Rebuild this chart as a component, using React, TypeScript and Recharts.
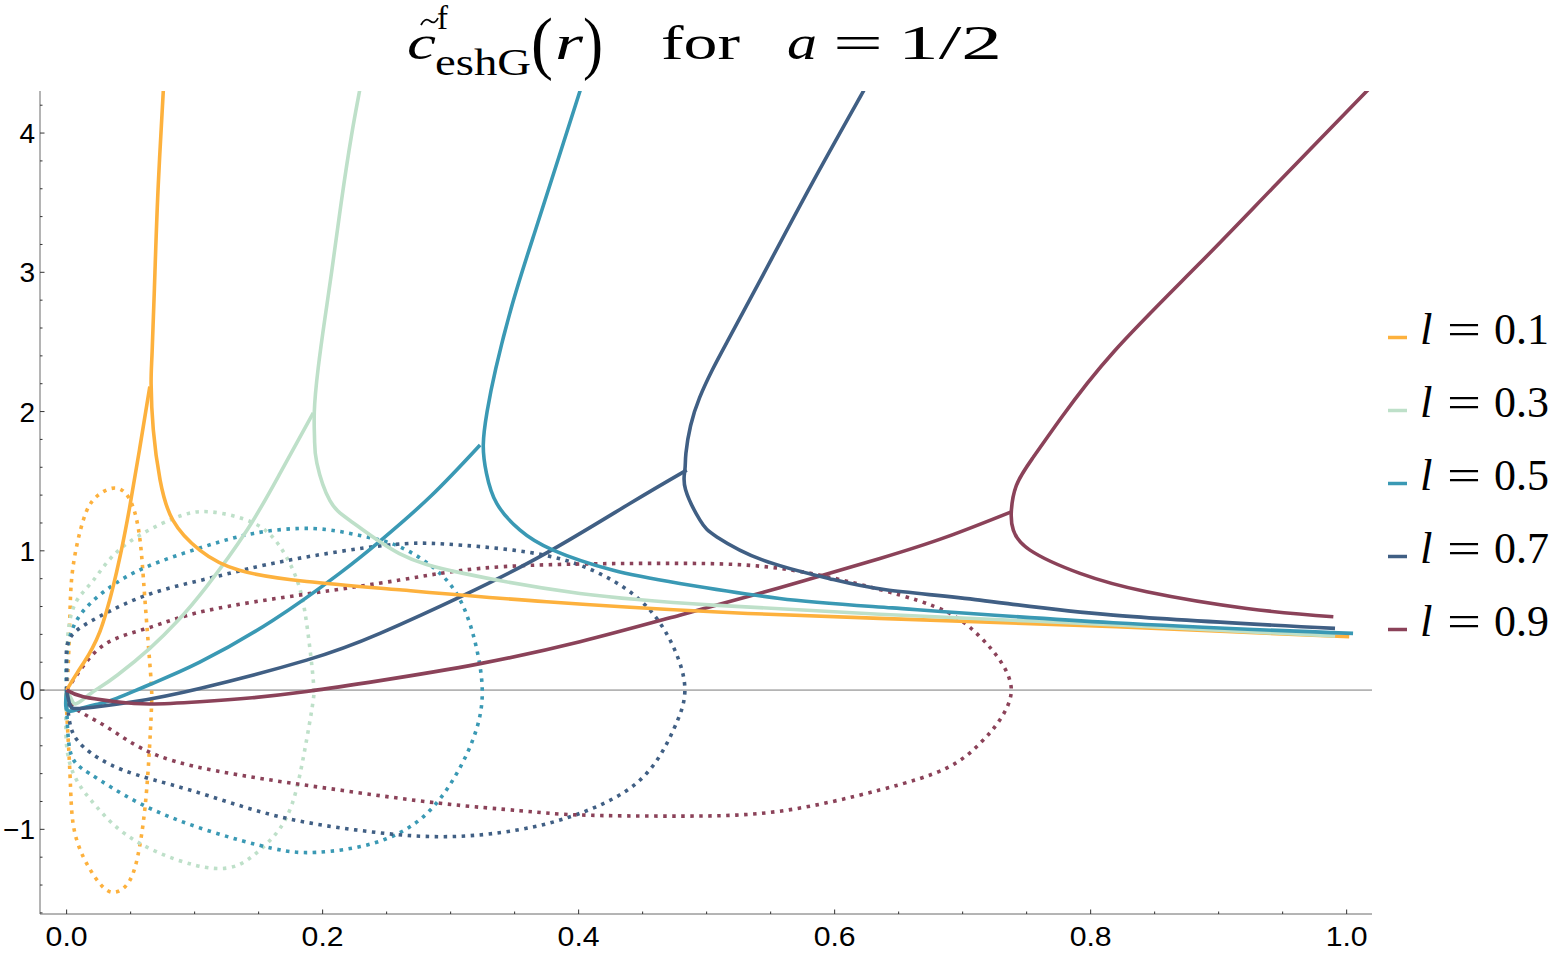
import { LineChart, Line, XAxis, YAxis, ReferenceLine } from 'recharts';

type Pt = [number, number];

const X_DOMAIN: [number, number] = [-0.0208, 1.0198];
const Y_DOMAIN: [number, number] = [-1.608, 4.302];
const X_TICKS = [0, 0.05, 0.1, 0.15, 0.2, 0.25, 0.3, 0.35, 0.4, 0.45, 0.5, 0.55, 0.6, 0.65, 0.7, 0.75, 0.8, 0.85, 0.9, 0.95, 1.0];
const X_LABELED = [0, 0.2, 0.4, 0.6, 0.8, 1.0];
const Y_TICKS = [-1.6, -1.4, -1.2, -1, -0.8, -0.6, -0.4, -0.2, 0, 0.2, 0.4, 0.6, 0.8, 1, 1.2, 1.4, 1.6, 1.8, 2, 2.2, 2.4, 2.6, 2.8, 3, 3.2, 3.4, 3.6, 3.8, 4, 4.2];
const Y_LABELED = [-1, 0, 1, 2, 3, 4];

const L_LABELS = ['0.1', '0.3', '0.5', '0.7', '0.9'];
const COLORS = ['#FDB13D', '#BEE0C9', '#3A99B4', '#405F84', '#8B4259'];

// l = 0.1
const RISE_01: Pt[] = [[0, 0], [0.008, 0.12], [0.014, 0.205], [0.02, 0.3], [0.026, 0.42], [0.031, 0.56], [0.036, 0.73], [0.042, 0.97], [0.049, 1.3], [0.057, 1.73], [0.065, 2.18]];
const BRANCH_01: Pt[] = [[0.0767, 4.5], [0.0755, 4.3], [0.0716, 3.63], [0.069, 3.0], [0.0668, 2.43], [0.066, 2.2], [0.0677, 1.87], [0.073, 1.51], [0.083, 1.22], [0.104, 1.005], [0.135, 0.86], [0.1875, 0.78], [0.26, 0.72], [0.375, 0.634], [0.505, 0.562], [0.635, 0.515], [0.82, 0.455], [1.002, 0.383]];
const LOOP_01: Pt[] = [[0, 0], [0.0013, 0.19], [0.0026, 0.55], [0.005, 0.885], [0.013, 1.22], [0.0234, 1.39], [0.039, 1.45], [0.0508, 1.34], [0.0573, 1.08], [0.061, 0.67], [0.065, 0.19], [0.0664, 0], [0.066, -0.19], [0.0625, -0.718], [0.057, -1.125], [0.0495, -1.364], [0.0377, -1.452], [0.026, -1.39], [0.013, -1.197], [0.005, -0.955], [0.0026, -0.6], [0, -0.144], [0, 0]];

// l = 0.3
const RISE_03: Pt[] = [[0, 0], [0.004, -0.07], [0.008, -0.096], [0.018, -0.03], [0.026, 0.02], [0.04, 0.11], [0.065, 0.3], [0.087, 0.5], [0.109, 0.74], [0.141, 1.15], [0.1667, 1.556], [0.1927, 1.99]];
const BRANCH_03: Pt[] = [[0.2328, 4.5], [0.2288, 4.3], [0.2225, 3.98], [0.2145, 3.5], [0.207, 3.0], [0.2018, 2.67], [0.1965, 2.31], [0.1935, 2.0], [0.1937, 1.8], [0.1955, 1.63], [0.2057, 1.36], [0.224, 1.2], [0.26, 0.98], [0.31, 0.838], [0.401, 0.694], [0.505, 0.61], [0.635, 0.545], [0.82, 0.468], [0.991, 0.388]];
const LOOP_03: Pt[] = [[0, 0], [0.001, 0.4], [0.0078, 0.64], [0.021, 0.79], [0.044, 1.03], [0.083, 1.23], [0.112, 1.28], [0.146, 1.2], [0.1667, 1.03], [0.18, 0.79], [0.1875, 0.48], [0.1927, 0.07], [0.193, 0], [0.1927, -0.07], [0.185, -0.48], [0.172, -0.91], [0.148, -1.172], [0.1146, -1.28], [0.057, -1.1], [0.0234, -0.838], [0.0078, -0.646], [0, -0.4], [0, 0]];

// l = 0.5
const RISE_05: Pt[] = [[0, 0], [0, -0.14], [0.01, -0.135], [0.025, -0.1], [0.039, -0.06], [0.065, 0.04], [0.104, 0.2], [0.161, 0.5], [0.2135, 0.84], [0.2448, 1.07], [0.284, 1.388], [0.323, 1.76]];
const BRANCH_05: Pt[] = [[0.408, 4.5], [0.401, 4.3], [0.3817, 3.745], [0.3651, 3.27], [0.3488, 2.79], [0.3353, 2.31], [0.3285, 2.0], [0.3255, 1.76], [0.328, 1.556], [0.336, 1.34], [0.354, 1.15], [0.38, 1.005], [0.427, 0.86], [0.479, 0.766], [0.557, 0.658], [0.645, 0.59], [0.8177, 0.483], [1.005, 0.407]];
const LOOP_05: Pt[] = [[0, 0], [0, 0.24], [0.0078, 0.5], [0.031, 0.72], [0.0625, 0.885], [0.104, 1.02], [0.146, 1.125], [0.1927, 1.16], [0.229, 1.11], [0.26, 1.03], [0.2917, 0.838], [0.31, 0.598], [0.32, 0.31], [0.3247, 0], [0.32, -0.287], [0.3047, -0.6], [0.2786, -0.91], [0.2396, -1.1], [0.1953, -1.165], [0.161, -1.137], [0.109, -1.005], [0.057, -0.813], [0.018, -0.6], [0.0026, -0.43], [0, 0]];

// l = 0.7
const RISE_07: Pt[] = [[0, 0], [0.0026, -0.108], [0.013, -0.13], [0.052, -0.084], [0.104, 0.012], [0.1875, 0.215], [0.2448, 0.407], [0.31, 0.68], [0.375, 0.985], [0.44, 1.34], [0.4844, 1.58]];
const BRANCH_07: Pt[] = [[0.6344, 4.5], [0.6224, 4.3], [0.583, 3.65], [0.544, 2.98], [0.516, 2.5], [0.5045, 2.3], [0.4945, 2.1], [0.4875, 1.9], [0.4838, 1.7], [0.483, 1.58], [0.4835, 1.44], [0.4948, 1.22], [0.508, 1.1], [0.544, 0.933], [0.596, 0.8], [0.64, 0.72], [0.7135, 0.646], [0.8177, 0.538], [0.9909, 0.443]];
const LOOP_07: Pt[] = [[0, 0], [0, 0.2], [0.003, 0.38], [0.026, 0.53], [0.065, 0.69], [0.1146, 0.81], [0.172, 0.93], [0.25, 1.04], [0.297, 1.048], [0.349, 1.005], [0.401, 0.897], [0.448, 0.646], [0.474, 0.31], [0.483, 0], [0.474, -0.287], [0.448, -0.646], [0.401, -0.885], [0.352, -1.005], [0.2917, -1.053], [0.2266, -1.005], [0.161, -0.897], [0.0963, -0.718], [0.044, -0.574], [0.013, -0.407], [0.0026, -0.24], [0, 0]];

// l = 0.9
const RISE_09: Pt[] = [[0, 0], [0.013, -0.048], [0.039, -0.084], [0.065, -0.1], [0.104, -0.084], [0.145, -0.055], [0.1875, -0.01], [0.2448, 0.068], [0.323, 0.19], [0.401, 0.347], [0.479, 0.538], [0.557, 0.735], [0.6354, 0.945], [0.6875, 1.1], [0.738, 1.28]];
const BRANCH_09: Pt[] = [[1.0367, 4.5], [1.0156, 4.3], [0.9443, 3.625], [0.8836, 3.05], [0.8181, 2.43], [0.7766, 1.95], [0.7545, 1.663], [0.742, 1.47], [0.738, 1.28], [0.7396, 1.149], [0.7526, 1.005], [0.7917, 0.838], [0.8438, 0.706], [0.922, 0.586], [0.9896, 0.526]];
const LOOP_09: Pt[] = [[0, 0], [0.0104, 0.14], [0.031, 0.335], [0.065, 0.45], [0.109, 0.57], [0.1875, 0.69], [0.26, 0.79], [0.323, 0.874], [0.401, 0.905], [0.479, 0.91], [0.557, 0.874], [0.635, 0.723], [0.6875, 0.562], [0.7135, 0.383], [0.729, 0.215], [0.738, 0], [0.729, -0.215], [0.7135, -0.383], [0.6875, -0.56], [0.635, -0.718], [0.557, -0.87], [0.479, -0.905], [0.401, -0.897], [0.354, -0.866], [0.2917, -0.813], [0.2135, -0.718], [0.135, -0.61], [0.0703, -0.467], [0.031, -0.263], [0.005, -0.12], [0, 0]];

const toPts = (a: Pt[]) => a.map(([x, y]) => ({ x, y }));

const SERIES = [
    { rise: RISE_01, branch: BRANCH_01, loop: LOOP_01 },
    { rise: RISE_03, branch: BRANCH_03, loop: LOOP_03 },
    { rise: RISE_05, branch: BRANCH_05, loop: LOOP_05 },
    { rise: RISE_07, branch: BRANCH_07, loop: LOOP_07 },
    { rise: RISE_09, branch: BRANCH_09, loop: LOOP_09 },
].map((s, i) => ({
    label: L_LABELS[i],
    color: COLORS[i],
    rise: toPts(s.rise),
    branch: toPts(s.branch),
    loop: toPts(s.loop),
}));

const FRAME = '#6a6a6a';
const TICK = '#333';
const MAJOR = 4.5;
const MINOR = 2.5;
const LINE_W = 3.6;
const TICK_FONT = '"Liberation Sans", Arial, sans-serif';
const SERIF = '"Liberation Serif", "Times New Roman", serif';

const near = (list: number[], v: number) => list.some(t => Math.abs(t - v) < 1e-6);
const fmtY = (v: number) => (v < 0 ? '\u2212' + Math.abs(v) : String(v));

function BottomTick(props: any) {
    const { x, y, payload } = props;
    const major = near(X_LABELED, payload.value);
    return (
        <g>
            <line x1={x} x2={x} y1={y} y2={y - (major ? MAJOR : MINOR)} stroke={TICK} />
            {major && (
                <text x={x} y={y + 32} textAnchor="middle" fontFamily={TICK_FONT} fontSize={28} fill="#000"
                    textLength={42} lengthAdjust="spacingAndGlyphs">
                    {payload.value.toFixed(1)}
                </text>
            )}
        </g>
    );
}

function TopTick(props: any) {
    const { x, y, payload } = props;
    const major = near(X_LABELED, payload.value);
    return <line x1={x} x2={x} y1={y} y2={y + (major ? MAJOR : MINOR)} stroke={TICK} />;
}

function LeftTick(props: any) {
    const { x, y, payload } = props;
    const major = near(Y_LABELED, payload.value);
    return (
        <g>
            <line x1={x} x2={x + (major ? MAJOR : MINOR)} y1={y} y2={y} stroke={TICK} />
            {major && (
                <text x={x - 5} y={y + 10} textAnchor="end" fontFamily={TICK_FONT} fontSize={28} fill="#000">
                    {fmtY(payload.value)}
                </text>
            )}
        </g>
    );
}

function RightTick(props: any) {
    const { x, y, payload } = props;
    const major = near(Y_LABELED, payload.value);
    return <line x1={x} x2={x - (major ? MAJOR : MINOR)} y1={y} y2={y} stroke={TICK} />;
}

function Title() {
    const t = { fontFamily: SERIF, fill: '#000' } as const;
    return (
        <g>
            <text {...t} x={407} y={59} fontSize={48} fontStyle="italic" textLength={29} lengthAdjust="spacingAndGlyphs">c</text>
            <path d="M 421 25 Q 425 17 430 21 T 438 18" fill="none" stroke="#000" strokeWidth={1.8} />
            <text {...t} x={437} y={29} fontSize={33} textLength={11} lengthAdjust="spacingAndGlyphs">f</text>
            <text {...t} x={435} y={75} fontSize={37} textLength={96} lengthAdjust="spacingAndGlyphs">eshG</text>
            <text {...t} x={531} y={66} fontSize={69} textLength={22} lengthAdjust="spacingAndGlyphs">(</text>
            <text {...t} x={555} y={59} fontSize={48} fontStyle="italic" textLength={28} lengthAdjust="spacingAndGlyphs">r</text>
            <text {...t} x={583} y={66} fontSize={69} textLength={20} lengthAdjust="spacingAndGlyphs">)</text>
            <text {...t} x={661} y={59} fontSize={48} textLength={79} lengthAdjust="spacingAndGlyphs">for</text>
            <text {...t} x={787} y={59} fontSize={48} fontStyle="italic" textLength={30} lengthAdjust="spacingAndGlyphs">a</text>
            <text {...t} x={833} y={59} fontSize={48} textLength={50} lengthAdjust="spacingAndGlyphs">=</text>
            <text {...t} x={898} y={59} fontSize={48} textLength={104} lengthAdjust="spacingAndGlyphs">1/2</text>
        </g>
    );
}

function LegendBox() {
    return (
        <g>
            {SERIES.map((s, i) => {
                const cy = 337.5 + i * 73;
                return (
                    <g key={s.label}>
                        <line x1={1388} x2={1407} y1={cy} y2={cy} stroke={s.color} strokeWidth={3.5} />
                        <text x={1420} y={cy + 6} fontFamily={SERIF} fontSize={45} fontStyle="italic" fill="#000">l</text>
                        <text x={1447} y={cy + 6} fontFamily={SERIF} fontSize={45} fill="#000" textLength={34} lengthAdjust="spacingAndGlyphs">=</text>
                        <text x={1494} y={cy + 6} fontFamily={SERIF} fontSize={45} fill="#000" textLength={55} lengthAdjust="spacingAndGlyphs">{s.label}</text>
                    </g>
                );
            })}
        </g>
    );
}

export default function App() {
    return (
        <div style={{ position: 'absolute', left: 0, top: 0, width: 1560, height: 955, background: '#fff' }}>
            <LineChart width={1560} height={955} margin={{ top: 91, right: 188, bottom: 0, left: 0 }}>
                <XAxis xAxisId="b" type="number" dataKey="x" domain={X_DOMAIN} allowDataOverflow ticks={X_TICKS} interval={0}
                    height={41} tickSize={0} tickMargin={0} tickLine={false} axisLine={{ stroke: FRAME }} tick={<BottomTick />} />
                <XAxis xAxisId="t" orientation="top" type="number" dataKey="x" domain={X_DOMAIN} allowDataOverflow ticks={X_TICKS} interval={0}
                    height={0} tickSize={0} tickMargin={0} tickLine={false} axisLine={{ stroke: FRAME }} tick={<TopTick />} />
                <YAxis yAxisId="l" type="number" dataKey="y" domain={Y_DOMAIN} allowDataOverflow ticks={Y_TICKS} interval={0}
                    width={40} tickSize={0} tickMargin={0} tickLine={false} axisLine={{ stroke: FRAME }} tick={<LeftTick />} />
                <YAxis yAxisId="r" orientation="right" type="number" dataKey="y" domain={Y_DOMAIN} allowDataOverflow ticks={Y_TICKS} interval={0}
                    width={0} tickSize={0} tickMargin={0} tickLine={false} axisLine={{ stroke: FRAME }} tick={<RightTick />} />
                <ReferenceLine xAxisId="b" yAxisId="l" y={0} stroke="#7a7a7a" strokeWidth={1} />
                {SERIES.map(s => (
                    <Line key={'loop' + s.label} xAxisId="b" yAxisId="l" data={s.loop} dataKey="y" type="natural"
                        stroke={s.color} strokeWidth={LINE_W} strokeDasharray="3.5 5.5" dot={false} activeDot={false} isAnimationActive={false} />
                ))}
                {SERIES.map(s => (
                    <Line key={'rise' + s.label} xAxisId="b" yAxisId="l" data={s.rise} dataKey="y" type="natural"
                        stroke={s.color} strokeWidth={LINE_W} dot={false} activeDot={false} isAnimationActive={false} />
                ))}
                {SERIES.map(s => (
                    <Line key={'branch' + s.label} xAxisId="b" yAxisId="l" data={s.branch} dataKey="y" type="natural"
                        stroke={s.color} strokeWidth={LINE_W} dot={false} activeDot={false} isAnimationActive={false} />
                ))}
            </LineChart>
            <svg width={1560} height={955} style={{ position: 'absolute', left: 0, top: 0, pointerEvents: 'none' }}>
                <Title />
                <LegendBox />
            </svg>
        </div>
    );
}
